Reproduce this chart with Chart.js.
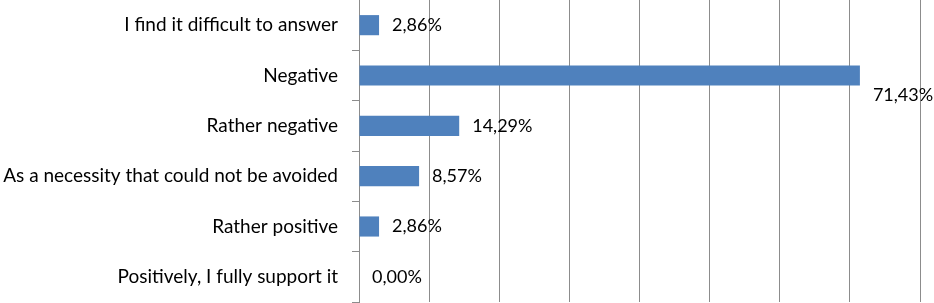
<!DOCTYPE html>
<html>
<head>
<meta charset="utf-8">
<script src="https://cdn.jsdelivr.net/npm/chart.js@4"></script>
<style>
  body { margin: 0; background: #fff; }
  #wrap { width: 934px; height: 303px; }
</style>
</head>
<body>
<div id="wrap"><canvas id="grafico"></canvas></div>
<script>
// dados
const categorias = [
  'I find it difficult to answer',
  'Negative',
  'Rather negative',
  'As a necessity that could not be avoided',
  'Rather positive',
  'Positively, I fully support it'
];
const valores = [2.86, 71.43, 14.29, 8.57, 2.86, 0.00];
const escalaX = { min: 0, max: 80, passo: 10 };

const fonte = '"Lato", "Open Sans", sans-serif';

// rótulos de valor no fim de cada barra (estilo Excel)
const rotulos = {
  id: 'rotulos',
  afterDatasetsDraw(chart) {
    const { ctx, chartArea } = chart;
    const meta = chart.getDatasetMeta(0);
    ctx.save();
    ctx.font = '18px ' + fonte;
    ctx.fillStyle = '#000';
    ctx.textBaseline = 'middle';
    meta.data.forEach((bar, i) => {
      const txt = valores[i].toFixed(2).replace('.', ',') + '%';
      const x = bar.x + 13;
      let y = bar.y;
      if (x + ctx.measureText(txt).width > chartArea.right) y += 20;
      ctx.fillText(txt, x, y);
    });
    ctx.restore();
  }
};

new Chart(document.getElementById('grafico'), {
  type: 'bar',
  data: {
    labels: categorias,
    datasets: [{
      data: valores,
      backgroundColor: '#4F81BD',
      barPercentage: 0.4,
      categoryPercentage: 1
    }]
  },
  options: {
    indexAxis: 'y',
    responsive: true,
    maintainAspectRatio: false,
    animation: false,
    layout: { padding: { top: 0, right: 14, bottom: 1, left: 0 } },
    plugins: { legend: { display: false }, tooltip: { enabled: false } },
    scales: {
      x: {
        min: escalaX.min,
        max: escalaX.max,
        ticks: { display: false, stepSize: escalaX.passo },
        grid: { color: '#8c8c8c', drawTicks: false },
        border: { display: false },
        afterFit: (s) => { s.height = 0; }
      },
      y: {
        grid: { drawOnChartArea: false, drawTicks: true, tickLength: 7, color: '#8c8c8c', offset: true },
        border: { color: '#8c8c8c' },
        ticks: { color: '#000', padding: 14, font: { family: fonte, size: 19 } },
        afterFit: (s) => { s.width = 359; s.paddingTop = 0; s.paddingBottom = 0; }
      }
    }
  },
  plugins: [rotulos]
});
</script>
</body>
</html>
